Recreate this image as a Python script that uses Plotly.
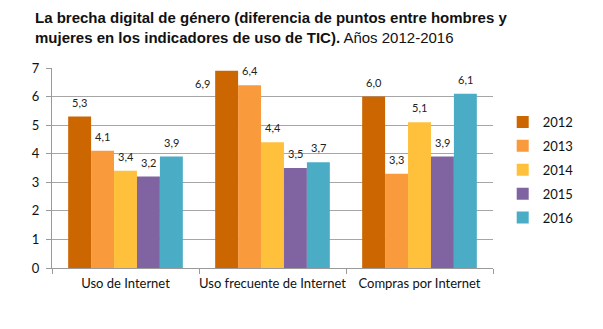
import plotly.graph_objects as go

categories = ["Uso de Internet", "Uso frecuente de Internet", "Compras por Internet"]
years = ["2012", "2013", "2014", "2015", "2016"]
values = {
    "2012": [5.3, 6.9, 6.0],
    "2013": [4.1, 6.4, 3.3],
    "2014": [3.4, 4.4, 5.1],
    "2015": [3.2, 3.5, 3.9],
    "2016": [3.9, 3.7, 6.1],
}
colors = {
    "2012": "#CC6600",
    "2013": "#F99A3C",
    "2014": "#FFC13B",
    "2015": "#8064A2",
    "2016": "#4BACC6",
}

bargap = 0.22
n = len(years)
bw = (1 - bargap) / n
xs = list(range(len(categories)))

fig = go.Figure()
annotations = []
for j, yr in enumerate(years):
    fig.add_trace(go.Bar(
        x=xs, y=values[yr], name=yr, marker_color=colors[yr],
        marker_line_width=0, legendgroup=yr,
    ))
    off = -(1 - bargap) / 2 + bw * (j + 0.5)
    for i, v in enumerate(values[yr]):
        label = f"{v:.1f}".replace(".", ",")
        if v >= 6.8:
            # label placed beside the bar when it would overflow the top
            annotations.append(dict(x=i + off - bw / 2, y=v - 0.45, xref="x", yref="y",
                                    text=label, showarrow=False, xanchor="right",
                                    xshift=-3, font=dict(size=11, color="#222")))
        else:
            annotations.append(dict(x=i + off, y=v, xref="x", yref="y",
                                    text=label, showarrow=False, yanchor="bottom",
                                    yshift=6, font=dict(size=11, color="#222")))

fig.update_layout(
    width=603, height=329,
    margin=dict(l=52, r=110, t=68, b=61),
    paper_bgcolor="white", plot_bgcolor="white",
    barmode="group", bargap=bargap, bargroupgap=0,
    font=dict(family="Lato, Liberation Sans, Arial", color="#222"),
    showlegend=True,
    legend=dict(x=1.022, y=0.49, yanchor="middle", xanchor="left",
                font=dict(size=13, color="#111"), tracegroupgap=4,
                traceorder="grouped", itemwidth=30),
    annotations=annotations,
)

# chart title, two lines, bold lead followed by the period in regular weight
fig.add_annotation(
    x=(33 - 52) / 441, y=1 + (68 - 7) / 200, xref="paper", yref="paper",
    xanchor="left", yanchor="top", showarrow=False, align="left",
    text="<b>La brecha digital de género (diferencia de puntos entre hombres y<br>"
         "mujeres en los indicadores de uso de TIC).</b> Años 2012-2016",
    font=dict(size=15, color="#111", family="Liberation Sans, Arial"),
)

fig.update_xaxes(
    range=[-0.5, 2.5], tickvals=xs, ticktext=categories, ticks="",
    showline=True, linecolor="#9a9a9a", linewidth=1, ticklabelstandoff=3,
    tickfont=dict(size=13, color="#111"), showgrid=False, zeroline=False,
    minor=dict(tickvals=[-0.5, 0.5, 1.5, 2.5], ticks="outside", ticklen=5,
               tickcolor="#9a9a9a", showgrid=False),
)
fig.update_yaxes(
    range=[0, 7], dtick=1, showgrid=True, gridcolor="#a6a6a6", gridwidth=1,
    showline=True, linecolor="#9a9a9a", ticks="outside", ticklen=5,
    ticklabelstandoff=4,
    tickcolor="#9a9a9a", tickfont=dict(size=13, color="#111"), zeroline=False,
)

fig.write_html("out.html")
